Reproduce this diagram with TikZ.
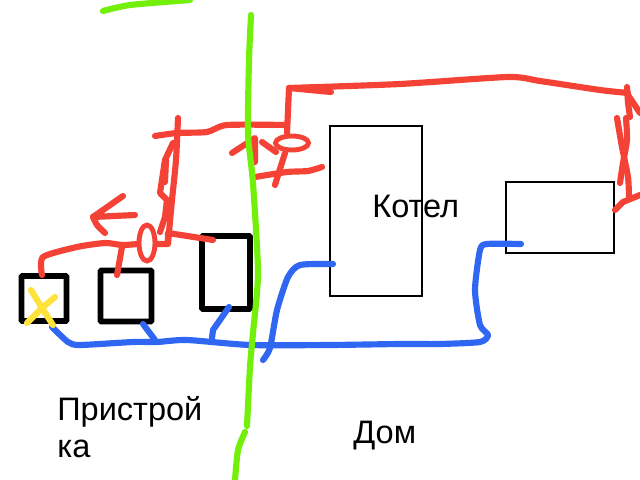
\documentclass[tikz,border=0pt]{standalone}
\usepackage{fontspec}
\setmainfont{Liberation Sans}
\usepackage{tikz}
\usetikzlibrary{shapes.geometric}
\definecolor{redwire}{HTML}{F44336}
\definecolor{bluewire}{HTML}{2F66F2}
\definecolor{greenwall}{HTML}{72F00A}
\definecolor{yellowmark}{HTML}{FFE33B}
\tikzstyle{smallbox} = [rectangle, rounded corners=0.6pt, draw=black, line width=3.4pt, fill=white, inner sep=0pt]
\tikzstyle{thinbox} = [rectangle, draw=black, line width=1.1pt, inner sep=0pt]
\tikzstyle{valve} = [ellipse, draw=redwire, line width=2.8pt, inner sep=0pt]
\tikzstyle{label} = [font=\fontsize{18.5}{21}\selectfont, inner sep=0pt, align=left]
\tikzstyle{red} = [draw=redwire, line width=3.5pt, line cap=round, line join=round]
\tikzstyle{blue} = [draw=bluewire, line width=3.5pt, line cap=round, line join=round]
\tikzstyle{green} = [draw=greenwall, line width=3.5pt, line cap=round, line join=round]
\tikzstyle{yellow} = [draw=yellowmark, line width=3.5pt, line cap=round, line join=round]

\begin{document}
\begin{tikzpicture}[x=0.02cm, y=-0.02cm]
\useasboundingbox (0,0) rectangle (640,480);
\fill [white] (0,0) rectangle (640,480);
% boxes
\node (box1) [smallbox, minimum width=45*0.02cm, minimum height=45*0.02cm] at (44,298.5) {};
\node (box2) [smallbox, minimum width=51*0.02cm, minimum height=51*0.02cm] at (126,296) {};
\node (box3) [smallbox, minimum width=48*0.02cm, minimum height=73*0.02cm] at (226,272.5) {};
\node (boiler) [thinbox, minimum width=92*0.02cm, minimum height=170*0.02cm] at (376,211) {};
\node (tank) [thinbox, minimum width=108*0.02cm, minimum height=71*0.02cm] at (560,217.5) {};
% text
\node (kotel) [label, anchor=west] at (372,206) {Котел};
\node (dom) [label, anchor=west] at (353,436) {Дом};
\node (annex) [label, anchor=north west] at (57,396) {Пристрой\\ка};
% valves
\node (valve1) [valve, minimum width=16*0.02cm, minimum height=36*0.02cm] at (147,243) {};
\node (valve2) [valve, minimum width=33*0.02cm, minimum height=14*0.02cm] at (292,143) {};
% red pipes
\draw [red] plot [smooth, tension=0.4] coordinates {(42,275) (43,257) (77,247) (105,243) (122,245) (138,244)};
\draw [red] (122,247) -- (117,275);
\draw [red] (157,244) -- (168,244) -- (168,233) -- (213,240);
\draw [red] (135,215) -- (93,217) -- (123,196);
\draw [red] plot [smooth, tension=0.4] coordinates {(93,217) (97,225) (105,233)};
\draw [red] plot [smooth, tension=0.4] coordinates {(178,118) (176,160) (172,200) (168,243)};
\draw [red] (173,143) -- (165,160) -- (160,193) -- (167,200) -- (165,217) -- (160,232);
\draw [red] (166,160) -- (165,182);
\draw [red] plot [smooth, tension=0.4] coordinates {(155,136) (177,133) (207,132) (227,125) (287,125)};
\draw [red] (287,133) -- (289,88) -- (331,92);
\draw [red] plot [smooth, tension=0.4] coordinates {(289,88) (400,84) (508,77) (540,81) (600,90) (628,93)};
\draw [red] (232,153) -- (255,138) -- (255,162);
\draw [red] (262,142) -- (276,152);
\draw [red] (285,153) -- (275,185);
\draw [red] plot [smooth, tension=0.4] coordinates {(255,177) (287,172) (308,171) (322,167)};
\draw [red] (627,87) -- (628,103) -- (630,117);
\draw [red] (628,95) -- (640,113);
\draw [red] plot [smooth, tension=0.4] coordinates {(626,118) (627,140) (623,163) (620,183)};
\draw [red] plot [smooth, tension=0.4] coordinates {(617,118) (622,147) (628,177) (629,197)};
\draw [red] (615,210) -- (623,202) -- (640,195);
% blue pipes
\draw [blue] plot [smooth, tension=0.4] coordinates {(52,327) (68,342) (80,345) (133,342) (157,342) (187,340) (250,345) (330,345) (400,344) (440,344) (480,342) (488,335) (480,325) (475,290) (480,250) (487,244) (521,244)};
\draw [blue] (143,324) -- (155,340);
\draw [blue] (229,307) -- (213,330) -- (212,338);
\draw [blue] plot [smooth, tension=0.4] coordinates {(263,360) (270,348) (277,310) (288,277) (300,265) (333,264)};
% wall
\draw [green] plot [smooth, tension=0.4] coordinates {(251,15) (249,60) (248,133) (253,183) (258,273) (253,333) (250,367) (247,426)};
\draw [green] plot [smooth, tension=0.4] coordinates {(245,432) (238,450) (235,480)};
\draw [green] plot [smooth, tension=0.4] coordinates {(103,11) (130,5) (190,0)};
% cross on first box
\draw [yellow] (31,290) -- (42,308) -- (53,325);
\draw [yellow] (55,297) -- (42,308) -- (27,323);
\end{tikzpicture}
\end{document}
